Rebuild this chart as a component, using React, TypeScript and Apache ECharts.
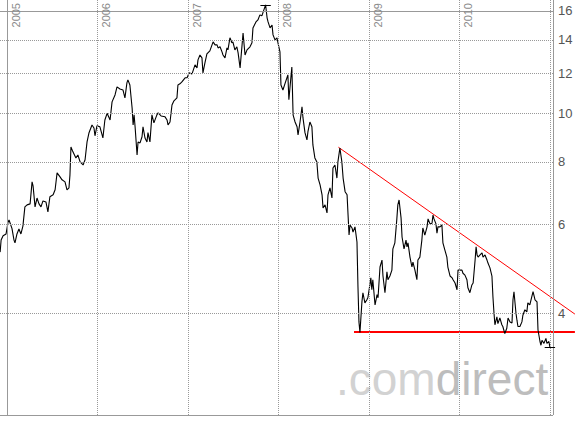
import React, { useEffect, useRef } from "react";
import * as echarts from "echarts";

const BASE = Date.UTC(2005, 0, 1);
const DAY = 86400000;

// [days since 2005-01-01, price]
const closes: [number, number][] = [
  [-29,5.29],[-25,5.59],[-17,5.70],[-5,5.75],[3,6.07],[7,6.13],[19,5.89],[27,5.59],[31,5.52],[39,5.75],[47,5.88],[55,5.75],[63,5.96],[71,6.51],[80,6.57],[92,6.60],[100,7.30],[104,7.17],[112,6.51],[120,6.78],[128,6.60],[136,6.51],[144,6.69],[156,6.66],[164,6.36],[172,6.82],[185,6.88],[193,7.04],[201,7.61],[213,7.47],[221,7.37],[233,7.30],[241,7.04],[249,7.10],[253,7.54],[257,8.57],[265,8.38],[277,8.15],[285,8.26],[294,8.00],[306,7.89],[314,8.08],[322,8.77],[330,9.15],[342,9.48],[350,9.35],[354,9.02],[362,9.44],[374,9.40],[386,8.93],[394,9.70],[403,10.0],[415,9.70],[423,10.54],[435,10.88],[443,11.29],[455,11.18],[467,11.13],[475,10.73],[483,11.50],[487,11.66],[495,11.39],[504,10.25],[508,9.48],[512,9.93],[516,9.40],[524,8.26],[528,8.77],[536,8.73],[544,8.98],[548,9.40],[556,8.93],[564,8.77],[568,9.15],[576,8.77],[584,9.93],[592,9.57],[604,9.93],[609,10.02],[621,9.88],[637,9.84],[645,9.70],[649,9.48],[657,9.61],[665,10.39],[673,10.59],[685,10.73],[689,11.39],[697,11.45],[705,11.55],[718,11.77],[726,11.77],[734,12.04],[746,11.98],[758,12.49],[766,12.32],[770,12.78],[778,13.07],[786,12.90],[790,12.04],[798,12.61],[806,13.13],[818,13.32],[831,13.88],[839,13.69],[847,13.69],[851,13.50],[859,13.57],[867,13.26],[871,13.07],[879,12.90],[887,13.50],[891,13.38],[899,14.14],[907,13.82],[911,13.88],[919,13.38],[927,13.57],[932,13.20],[940,12.32],[948,13.69],[952,14.46],[960,13.07],[968,13.38],[980,13.57],[988,13.82],[992,14.80],[1004,15.21],[1012,15.35],[1020,15.71],[1028,15.64],[1032,15.86],[1043,16.45],[1049,15.50],[1053,15.21],[1061,14.80],[1069,15.00],[1073,14.33],[1081,14.01],[1089,14.14],[1093,13.82],[1101,13.26],[1105,11.39],[1113,11.13],[1121,11.45],[1133,11.93],[1137,10.64],[1145,11.77],[1149,12.37],[1154,9.93],[1162,9.61],[1170,9.40],[1174,9.06],[1182,9.61],[1190,10.30],[1194,9.79],[1202,9.15],[1210,8.85],[1214,9.19],[1222,9.61],[1230,9.40],[1234,8.65],[1242,8.15],[1250,8.00],[1255,7.43],[1263,7.20],[1271,6.88],[1275,6.48],[1283,6.57],[1291,6.33],[1295,6.88],[1303,7.10],[1311,6.78],[1315,7.78],[1323,7.89],[1331,7.43],[1335,8.00],[1343,8.53],[1351,8.00],[1356,7.43],[1364,6.98],[1372,6.88],[1376,6.27],[1380,5.72],[1384,5.99],[1392,5.91],[1396,5.80],[1404,5.94],[1412,5.54],[1416,4.51],[1420,3.84],[1424,3.66],[1432,4.21],[1436,4.39],[1444,4.19],[1452,4.25],[1456,4.29],[1464,4.55],[1468,4.70],[1472,4.45],[1476,4.66],[1485,4.15],[1493,4.35],[1497,4.29],[1505,4.94],[1513,5.10],[1517,4.74],[1525,4.39],[1533,4.83],[1537,4.66],[1545,4.74],[1553,4.87],[1557,5.37],[1565,5.52],[1573,6.16],[1577,6.57],[1582,6.72],[1590,6.19],[1594,5.67],[1602,5.37],[1610,5.59],[1614,5.42],[1618,5.52],[1626,5.17],[1634,4.94],[1638,5.05],[1646,4.87],[1654,4.66],[1658,5.10],[1666,5.17],[1674,5.59],[1678,5.91],[1686,5.72],[1695,5.94],[1699,6.16],[1707,6.02],[1715,6.04],[1719,6.27],[1723,6.16],[1731,6.02],[1735,5.77],[1739,5.94],[1747,5.94],[1755,5.99],[1759,5.52],[1767,5.34],[1775,5.17],[1779,4.94],[1788,4.74],[1796,4.70],[1800,4.66],[1808,4.59],[1816,4.45],[1820,4.87],[1828,4.87],[1836,4.87],[1840,4.80],[1848,4.76],[1856,4.66],[1860,4.49],[1868,4.39],[1876,4.55],[1881,4.59],[1889,5.10],[1893,5.42],[1897,5.22],[1901,5.17],[1909,5.22],[1917,5.27],[1921,5.17],[1929,5.22],[1937,5.10],[1941,5.03],[1949,4.92],[1957,4.74],[1961,4.31],[1965,4.02],[1969,3.79],[1977,3.93],[1981,3.81],[1989,3.91],[1997,3.79],[2001,3.76],[2009,3.64],[2017,3.73],[2022,3.91],[2030,3.84],[2038,3.82],[2042,4.25],[2046,4.41],[2054,4.00],[2058,3.87],[2062,3.76],[2070,3.76],[2078,3.84],[2082,3.96],[2090,4.06],[2098,4.02],[2102,4.19],[2110,4.15],[2118,4.31],[2123,4.41],[2131,4.25],[2139,4.21],[2143,3.70],[2151,3.51],[2155,3.45],[2159,3.53],[2167,3.48],[2175,3.56],[2179,3.48],[2187,3.51],[2191,3.42]
];

const yearLines = [2005, 2006, 2007, 2008, 2009, 2010, 2011];
const yearLabels = ["2005", "2006", "2007", "2008", "2009", "2010", ""];
const priceTicks = [4, 6, 8, 10, 12, 14, 16];

// trend lines: [day, price]
const resistanceLine: [number, number][] = [[1337, 8.56], [2292, 3.98]];
const supportLine: [number, number][] = [[1400, 3.667], [2292, 3.667]];

const X_MIN_DAY = -29.5;
const X_MAX_DAY = 2292.4;
const BORDER_DAY = 2203.5; // right edge of the price frame
const Y_MIN = 2.505;
const Y_MAX = 16.82;

const toTime = (d: number) => BASE + d * DAY;
const FONT = "'Liberation Sans', Arial, sans-serif";

export default function App() {
  const ref = useRef<HTMLDivElement>(null);
  useEffect(() => {
    if (!ref.current) return;
    const chart = echarts.init(ref.current, undefined, { renderer: "svg" });
    const data = closes.map(([d, p]) => [toTime(d), p]);
    let maxI = 0, minI = 0;
    closes.forEach(([, p], i) => {
      if (p > closes[maxI][1]) maxI = i;
      if (p < closes[minI][1]) minI = i;
    });
    const mark = (i: number) => [
      { coord: [toTime(closes[i][0] - 21), closes[i][1]] },
      { coord: [toTime(closes[i][0] + 21), closes[i][1]] },
    ];
    const dotted = { color: "#999", width: 1, type: [1, 1] as any };
    const solid = { color: "#999", width: 1, type: "solid" as any };
    const xLeft = toTime(X_MIN_DAY);
    const xBorder = toTime(BORDER_DAY);

    chart.setOption({
      animation: false,
      grid: { left: 0, top: 0, width: 575, height: 415 },
      xAxis: {
        type: "time",
        min: xLeft,
        max: toTime(X_MAX_DAY),
        axisLine: { show: false },
        axisTick: { show: false },
        axisLabel: { show: false },
        splitLine: { show: false },
      },
      yAxis: {
        type: "log",
        min: Y_MIN,
        max: Y_MAX,
        axisLine: { show: false },
        axisTick: { show: false },
        axisLabel: { show: false },
        splitLine: { show: false },
      },
      graphic: [
        {
          type: "text",
          x: 336,
          y: 379,
          z: 0,
          silent: true,
          style: {
            text: "{a|.com}{b|direct}",
            verticalAlign: "middle",
            rich: {
              a: { fontSize: 46, fontFamily: FONT, fill: "#d2d2d2", color: "#d2d2d2" },
              b: { fontSize: 46, fontFamily: FONT, fill: "#bdbdbd", color: "#bdbdbd" },
            },
          },
        },
      ],
      series: [
        {
          type: "line",
          data: [],
          z: 1,
          silent: true,
          markLine: {
            silent: true,
            symbol: "none",
            animation: false,
            data: [
              ...yearLines.map((y, i) => ({
                xAxis: Date.UTC(y, 0, 1),
                lineStyle: i === 0 ? solid : dotted,
                label: {
                  show: yearLabels[i] !== "",
                  formatter: yearLabels[i],
                  position: "insideEndBottom",
                  distance: 3,
                  color: "#8a8a8a",
                  fontSize: 11,
                  fontFamily: FONT,
                },
              })),
              ...priceTicks.map((v) => [
                {
                  coord: [xLeft, v],
                  lineStyle: v === 16 ? solid : dotted,
                  label: {
                    show: true,
                    formatter: String(v),
                    position: "end",
                    distance: 5,
                    color: "#555",
                    fontSize: 13,
                    fontFamily: FONT,
                  },
                },
                { coord: [xBorder, v] },
              ]),
              [
                { coord: [xBorder, Y_MIN], lineStyle: solid, label: { show: false } },
                { coord: [xBorder, Y_MAX] },
              ],
              [
                { coord: [xLeft, Y_MIN], lineStyle: solid, label: { show: false } },
                { coord: [xBorder, Y_MIN] },
              ],
            ],
          },
        },
        {
          type: "line",
          data: resistanceLine.map(([d, p]) => [toTime(d), p]),
          z: 2,
          symbol: "none",
          silent: true,
          lineStyle: { color: "#ff0000", width: 1 },
        },
        {
          type: "line",
          data: supportLine.map(([d, p]) => [toTime(d), p]),
          z: 2,
          symbol: "none",
          silent: true,
          lineStyle: { color: "#ff0000", width: 2 },
        },
        {
          type: "line",
          data,
          z: 3,
          symbol: "none",
          silent: true,
          lineStyle: { color: "#000", width: 1.1 },
          markLine: {
            silent: true,
            symbol: "none",
            label: { show: false },
            lineStyle: { color: "#000", width: 1, type: "solid" },
            data: [mark(maxI), mark(minI)],
          },
        },
      ],
    });
    return () => chart.dispose();
  }, []);
  return (
    <div
      ref={ref}
      style={{ position: "absolute", left: 0, top: 0, width: 575, height: 423, background: "#fff" }}
    />
  );
}
